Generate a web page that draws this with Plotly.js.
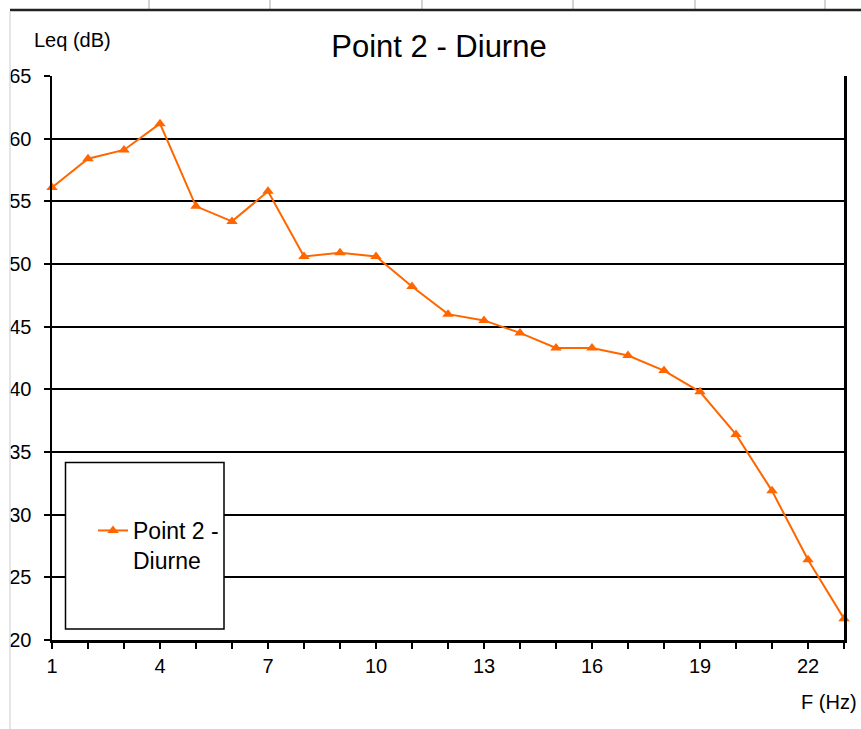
<!DOCTYPE html>
<html>
<head>
<meta charset="utf-8">
<script src="https://cdn.plot.ly/plotly-3.0.1.min.js"></script>
<style>
  html, body { margin: 0; padding: 0; background: #ffffff; }
  #chart { width: 861px; height: 729px; }
</style>
</head>
<body>
<div id="chart"></div>
<script>
// ---- data ----
const freqBands = [1, 2, 3, 4, 5, 6, 7, 8, 9, 10, 11, 12, 13, 14, 15, 16, 17, 18, 19, 20, 21, 22, 23];
const leqValues = [56.1, 58.4, 59.1, 61.2, 54.6, 53.4, 55.8, 50.6, 50.9, 50.6, 48.2, 46.0, 45.5, 44.5, 43.3, 43.3, 42.7, 41.5, 39.8, 36.4, 31.9, 26.4, 21.7];
const xTickLabels = ['1', '', '', '4', '', '', '7', '', '', '10', '', '', '13', '', '', '16', '', '', '19', '', '', '22', ''];
const seriesName = 'Point 2 -<br>Diurne';
const chartTitle = 'Point 2 - Diurne';
const yAxisLabel = 'Leq (dB)';
const xAxisLabel = 'F (Hz)';

const FONT = 'Liberation Sans, Arial, Helvetica, sans-serif';
const ORANGE = '#FF6600';

const trace = {
  x: freqBands,
  y: leqValues,
  type: 'scatter',
  mode: 'lines+markers',
  name: seriesName,
  cliponaxis: false,
  line: { color: ORANGE, width: 2 },
  marker: { symbol: 'triangle-up', size: 10, color: ORANGE, line: { color: ORANGE, width: 0 } }
};

// spreadsheet frame decorations (paper coordinates of the 792x564 plot area)
const px = v => (v - 52) / 792;
const py = v => (640 - v) / 564;
const cellLinesX = [149, 270, 422, 573, 695, 825];
const shapes = [];
cellLinesX.forEach(cx => shapes.push({
  type: 'line', xref: 'paper', yref: 'paper', x0: px(cx), x1: px(cx), y0: py(0), y1: py(9),
  line: { color: '#d4d4d4', width: 2 }
}));
shapes.push({ type: 'line', xref: 'paper', yref: 'paper', x0: px(10), x1: px(861), y0: py(10), y1: py(10),
  line: { color: '#222222', width: 2.5 } });
shapes.push({ type: 'line', xref: 'paper', yref: 'paper', x0: px(10), x1: px(10), y0: py(11), y1: py(729),
  line: { color: '#dddddd', width: 1.5 } });
// legend box
shapes.push({ type: 'rect', xref: 'paper', yref: 'paper', layer: 'above',
  x0: px(65.5), x1: px(224), y0: py(629), y1: py(462.5),
  fillcolor: '#ffffff', line: { color: '#000000', width: 1.5 } });

const layout = {
  width: 861,
  height: 729,
  paper_bgcolor: '#ffffff',
  plot_bgcolor: '#ffffff',
  margin: { l: 52, r: 17, t: 76, b: 89, pad: 0 },
  font: { family: FONT, color: '#000000', size: 20 },
  title: {
    text: chartTitle,
    font: { family: FONT, size: 31, color: '#000000' },
    xref: 'paper', x: px(439), xanchor: 'center',
    yref: 'container', y: 1 - 46 / 729, yanchor: 'middle'
  },
  showlegend: true,
  legend: {
    x: px(93), xanchor: 'left',
    y: py(509), yanchor: 'top',
    bgcolor: 'rgba(0,0,0,0)',
    borderwidth: 0,
    valign: 'top',
    font: { family: FONT, size: 23, color: '#000000' }
  },
  xaxis: {
    range: [1, 23],
    tickmode: 'array',
    tickvals: freqBands,
    ticktext: xTickLabels,
    showgrid: false,
    zeroline: false,
    showline: true,
    linecolor: '#000000',
    linewidth: 3,
    ticks: 'outside',
    ticklen: 6,
    tickwidth: 2,
    tickcolor: '#000000',
    tickfont: { family: FONT, size: 20, color: '#000000' }
  },
  yaxis: {
    range: [20, 65],
    tickmode: 'linear',
    tick0: 20,
    dtick: 5,
    showgrid: true,
    gridcolor: '#000000',
    gridwidth: 2,
    zeroline: false,
    showline: true,
    mirror: true,
    linecolor: '#000000',
    linewidth: 2.5,
    ticks: 'outside',
    ticklen: 6,
    tickwidth: 2,
    tickcolor: '#000000',
    ticklabelstandoff: 8,
    tickfont: { family: FONT, size: 20, color: '#000000' }
  },
  shapes: shapes,
  annotations: [
    { text: yAxisLabel, xref: 'paper', yref: 'paper', x: px(32), y: py(40),
      xanchor: 'left', yanchor: 'middle', showarrow: false,
      font: { family: FONT, size: 20, color: '#000000' } },
    { text: xAxisLabel, xref: 'paper', yref: 'paper', x: px(859), y: py(701.5),
      xanchor: 'right', yanchor: 'middle', showarrow: false,
      font: { family: FONT, size: 20, color: '#000000' } }
  ]
};

Plotly.newPlot('chart', [trace], layout, { displayModeBar: false, staticPlot: true });
</script>
</body>
</html>
